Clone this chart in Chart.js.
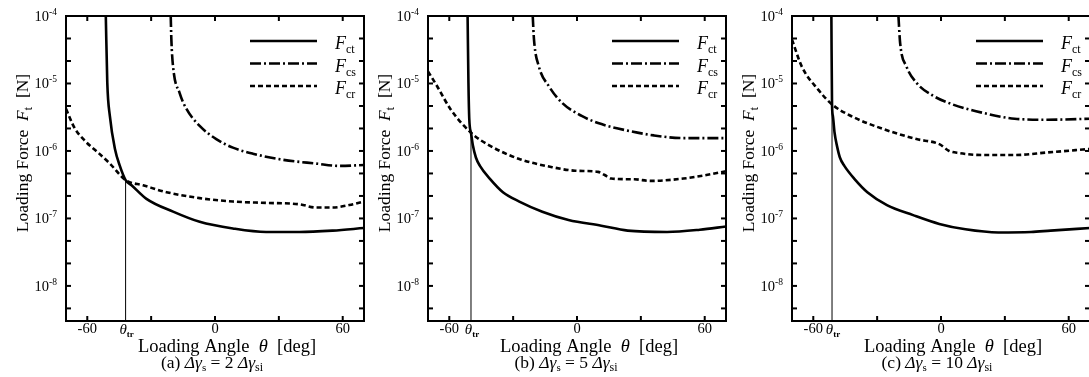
<!DOCTYPE html>
<html lang="en">
<head>
<meta charset="UTF-8">
<title>Loading force vs loading angle</title>
<script src="https://cdn.jsdelivr.net/npm/chart.js"></script>
<style>
  html, body { margin: 0; padding: 0; background: #fff; }
  body { width: 1089px; height: 377px; overflow: hidden; position: relative; }
  canvas { position: absolute; top: 0; }
</style>
</head>
<body>
<canvas id="chartA" width="370" height="377" style="left:0px"></canvas>
<canvas id="chartB" width="370" height="377" style="left:362px"></canvas>
<canvas id="chartC" width="370" height="377" style="left:726px"></canvas>
<script>
// (a) dGs = 2 dGsi
var thetaCtA = [-51.3, -50.6, -49.4, -47.0, -44.7, -42.0, -39.2, -32.2, -19.7, -7.2, 8.4, 24, 39.7, 55.3, 70];
var forceCtA = [1.0e-4, 1.02e-5, 3.3e-6, 1.07e-6, 6.0e-7, 3.7e-7, 3.1e-7, 1.95e-7, 1.26e-7, 8.9e-8, 7.1e-8, 6.3e-8, 6.3e-8, 6.6e-8, 7.2e-8];
var thetaCsA = [-20.8, -20.5, -19.7, -16.6, -13.4, -7.2, 0.6, 8.4, 17.8, 31.9, 47.5, 58.4, 70];
var forceCsA = [1.0e-4, 4.47e-5, 1.78e-5, 7.2e-6, 4.2e-6, 2.35e-6, 1.5e-6, 1.12e-6, 9.1e-7, 7.4e-7, 6.5e-7, 6.0e-7, 6.2e-7];
var thetaCrA = [-70, -66, -61, -55, -49.4, -42.0, -33.8, -22.8, -7.2, 8.4, 24, 39.7, 47.5, 55.3, 63.1, 70];
var forceCrA = [4.2e-6, 2.2e-6, 1.4e-6, 9.5e-7, 6.5e-7, 3.7e-7, 3.1e-7, 2.45e-7, 2.0e-7, 1.78e-7, 1.7e-7, 1.62e-7, 1.45e-7, 1.45e-7, 1.58e-7, 1.78e-7];

// (b) dGs = 5 dGsi
var thetaCtB = [-51.4, -51.0, -50.6, -49.8, -48.9, -47.5, -45.6, -41.0, -34.8, -27.1, -16.3, -4.0, 11.4, 23.8, 42.3, 57.7, 70];
var forceCtB = [1.0e-4, 1.02e-5, 2.95e-6, 1.86e-6, 1.2e-6, 8.0e-7, 6.0e-7, 3.9e-7, 2.45e-7, 1.78e-7, 1.26e-7, 9.5e-8, 7.8e-8, 6.6e-8, 6.3e-8, 6.8e-8, 7.6e-8];
var thetaCsB = [-20.8, -20.2, -17.9, -13.2, -7.1, 2.2, 11.5, 23.8, 36.1, 50, 70];
var forceCsB = [1.0e-4, 4.47e-5, 1.78e-5, 9.1e-6, 5.2e-6, 3.3e-6, 2.5e-6, 2.0e-6, 1.7e-6, 1.55e-6, 1.55e-6];
var thetaCrB = [-70, -65.7, -59.5, -49.8, -41, -27.1, -11.7, -0.9, 9.9, 13, 16.1, 26.9, 34.6, 50, 60.8, 70];
var forceCrB = [1.51e-5, 9.1e-6, 4.2e-6, 1.86e-6, 1.2e-6, 7.6e-7, 5.75e-7, 5.1e-7, 4.9e-7, 4.4e-7, 3.9e-7, 3.8e-7, 3.6e-7, 3.9e-7, 4.4e-7, 5.0e-7];

// (c) dGs = 10 dGsi
var thetaCtC = [-51.5, -51.2, -50.8, -50.0, -48.9, -47.5, -45.4, -40.8, -34.6, -25.4, -13.1, -0.8, 11.5, 26.9, 42.3, 51.5, 70];
var forceCtC = [1.0e-4, 4.9e-6, 3.3e-6, 1.86e-6, 1.2e-6, 8.0e-7, 6.0e-7, 3.9e-7, 2.45e-7, 1.58e-7, 1.12e-7, 8.3e-8, 6.9e-8, 6.2e-8, 6.3e-8, 6.6e-8, 7.2e-8];
var thetaCsC = [-20.0, -19.2, -16.2, -11.5, -3.8, 5.4, 19.2, 34.6, 50, 70];
var forceCsC = [1.0e-4, 3.98e-5, 1.78e-5, 1.02e-5, 6.6e-6, 4.9e-6, 3.7e-6, 3.0e-6, 2.9e-6, 3.0e-6];
var thetaCrC = [-70, -65.4, -57.7, -51.2, -42.3, -26.9, -11.5, -0.8, 3.8, 8.5, 19.2, 34.6, 50, 70];
var forceCrC = [4.47e-5, 1.78e-5, 8.1e-6, 4.9e-6, 3.3e-6, 2.1e-6, 1.5e-6, 1.26e-6, 1.0e-6, 9.3e-7, 8.7e-7, 8.7e-7, 9.5e-7, 1.07e-6];

// transition angle and the force where F_ct meets F_cr
var thetaTr = [-42.0, -49.8, -51.2];
var forceTr = [3.7e-7, 1.86e-6, 4.9e-6];

var panelLabels = ['(a)', '(b)', '(c)'];
var gammaRatios = ['2', '5', '10'];
var legendSubs = ['ct', 'cs', 'cr'];
var xTicks = [-60, -30, 0, 30, 60];
var xTickLabels = ['-60', '', '0', '', '60'];
var yDecades = [-4, -5, -6, -7, -8];

var SERIF = '"Liberation Serif", "Times New Roman", serif';
var dashCs = [11, 3, 2, 3];
var dashCr = [5, 3];

function pts(xs, ys) {
    return xs.map(function (x, i) { return { x: x, y: ys[i] }; });
}

// draw a row of text pieces [text, font, dy]
function textRun(ctx, parts, x, y, align) {
    var w = 0;
    parts.forEach(function (p) { ctx.font = p[1]; p.w = ctx.measureText(p[0]).width; w += p.w; });
    var cx = align === 'center' ? x - w / 2 : (align === 'right' ? x - w : x);
    parts.forEach(function (p) {
        ctx.font = p[1];
        ctx.fillText(p[0], cx, y + (p[2] || 0));
        cx += p.w;
    });
}

function line(ctx, x1, y1, x2, y2) {
    ctx.beginPath(); ctx.moveTo(x1, y1); ctx.lineTo(x2, y2); ctx.stroke();
}

var framePlugin = {
    id: 'frame',
    afterDraw: function (chart) {
        var o = chart.options.plugins.frame;
        var a = chart.chartArea, ctx = chart.ctx;
        var xs = chart.scales.x, ys = chart.scales.y;
        ctx.save();
        ctx.strokeStyle = '#000';
        ctx.fillStyle = '#000';
        ctx.lineWidth = 2;
        ctx.setLineDash([]);
        ctx.strokeRect(a.left, a.top, a.right - a.left, a.bottom - a.top);

        // inward ticks
        xTicks.forEach(function (v) {
            var px = xs.getPixelForValue(v);
            line(ctx, px, a.bottom, px, a.bottom - 5);
            line(ctx, px, a.top, px, a.top + 5);
        });
        for (var k = 1; k <= 13; k++) {
            var py = ys.getPixelForValue(Math.pow(10, -4 - k / 3));
            line(ctx, a.left, py, a.left + 5, py);
            line(ctx, a.right, py, a.right - 5, py);
        }

        ctx.textBaseline = 'alphabetic';
        // tick labels
        xTicks.forEach(function (v, i) {
            if (!xTickLabels[i]) return;
            textRun(ctx, [[xTickLabels[i], '14.5px ' + SERIF]], xs.getPixelForValue(v), a.bottom + 12, 'center');
        });
        textRun(ctx, [['θ', 'italic 15px ' + SERIF], ['tr', 'bold 9px ' + SERIF, 3]],
            xs.getPixelForValue(o.thetaTr) + 1, a.bottom + 13, 'center');
        yDecades.forEach(function (d) {
            var py = ys.getPixelForValue(Math.pow(10, d));
            textRun(ctx, [['10', '14.5px ' + SERIF], [String(d), '9.5px ' + SERIF, -6]], a.left - 9, py + 5, 'right');
        });

        // axis titles
        textRun(ctx, [['Loading Angle  ', '18.5px ' + SERIF], ['θ', 'italic 18.5px ' + SERIF], ['  [deg]', '18.5px ' + SERIF]],
            a.left + 161, a.bottom + 31, 'center');
        textRun(ctx, [[o.label + ' ', '17.5px ' + SERIF], ['Δγ', 'italic 17.5px ' + SERIF], ['s', '11px ' + SERIF, 3],
            [' = ' + o.ratio + ' ', '17.5px ' + SERIF], ['Δγ', 'italic 17.5px ' + SERIF], ['si', '12px ' + SERIF, 3]],
            a.left + o.capX, a.bottom + 47, 'center');
        ctx.save();
        ctx.translate(a.left - 44, 153);
        ctx.rotate(-Math.PI / 2);
        textRun(ctx, [['Loading Force  ', '17.5px ' + SERIF], ['F', 'italic 17.5px ' + SERIF], ['t', '12px ' + SERIF, 4],
            ['  [N]', '17.5px ' + SERIF]], 0, 6, 'center');
        ctx.restore();

        // legend
        var dashes = [[], dashCs, dashCr];
        legendSubs.forEach(function (s, i) {
            var ly = a.top + 25 + i * 22.5;
            ctx.lineWidth = 2.5;
            ctx.setLineDash(dashes[i]);
            line(ctx, a.right - 114, ly, a.right - 47, ly);
            ctx.setLineDash([]);
            textRun(ctx, [['F', 'italic 18px ' + SERIF], [s, '12px ' + SERIF, 4]], a.right - 29, ly + 8, 'left');
        });
        ctx.restore();
    }
};

function makeChart(id, ct, cs, cr, idx, capX) {
    new Chart(document.getElementById(id), {
        type: 'line',
        data: {
            datasets: [
                { data: ct, borderColor: '#000', borderWidth: 2.6, pointRadius: 0, cubicInterpolationMode: 'monotone' },
                { data: cs, borderColor: '#000', borderWidth: 2.6, borderDash: dashCs, pointRadius: 0, cubicInterpolationMode: 'monotone' },
                { data: cr, borderColor: '#000', borderWidth: 2.6, borderDash: dashCr, pointRadius: 0, cubicInterpolationMode: 'monotone' },
                { data: [{ x: thetaTr[idx], y: 1e-9 }, { x: thetaTr[idx], y: forceTr[idx] }], borderColor: '#000', borderWidth: 1, pointRadius: 0 }
            ]
        },
        options: {
            responsive: false,
            animation: false,
            layout: { padding: { left: 66, right: 6, top: 16, bottom: 56 } },
            scales: {
                x: { type: 'linear', min: -70, max: 70, display: false },
                y: { type: 'logarithmic', min: 3.02e-9, max: 1e-4, display: false }
            },
            plugins: {
                legend: { display: false },
                tooltip: { enabled: false },
                frame: { label: panelLabels[idx], ratio: gammaRatios[idx], thetaTr: thetaTr[idx], capX: capX }
            }
        },
        plugins: [framePlugin]
    });
}

makeChart('chartA', pts(thetaCtA, forceCtA), pts(thetaCsA, forceCsA), pts(thetaCrA, forceCrA), 0, 146);
makeChart('chartB', pts(thetaCtB, forceCtB), pts(thetaCsB, forceCsB), pts(thetaCrB, forceCrB), 1, 138);
makeChart('chartC', pts(thetaCtC, forceCtC), pts(thetaCsC, forceCsC), pts(thetaCrC, forceCrC), 2, 145);
</script>
</body>
</html>
